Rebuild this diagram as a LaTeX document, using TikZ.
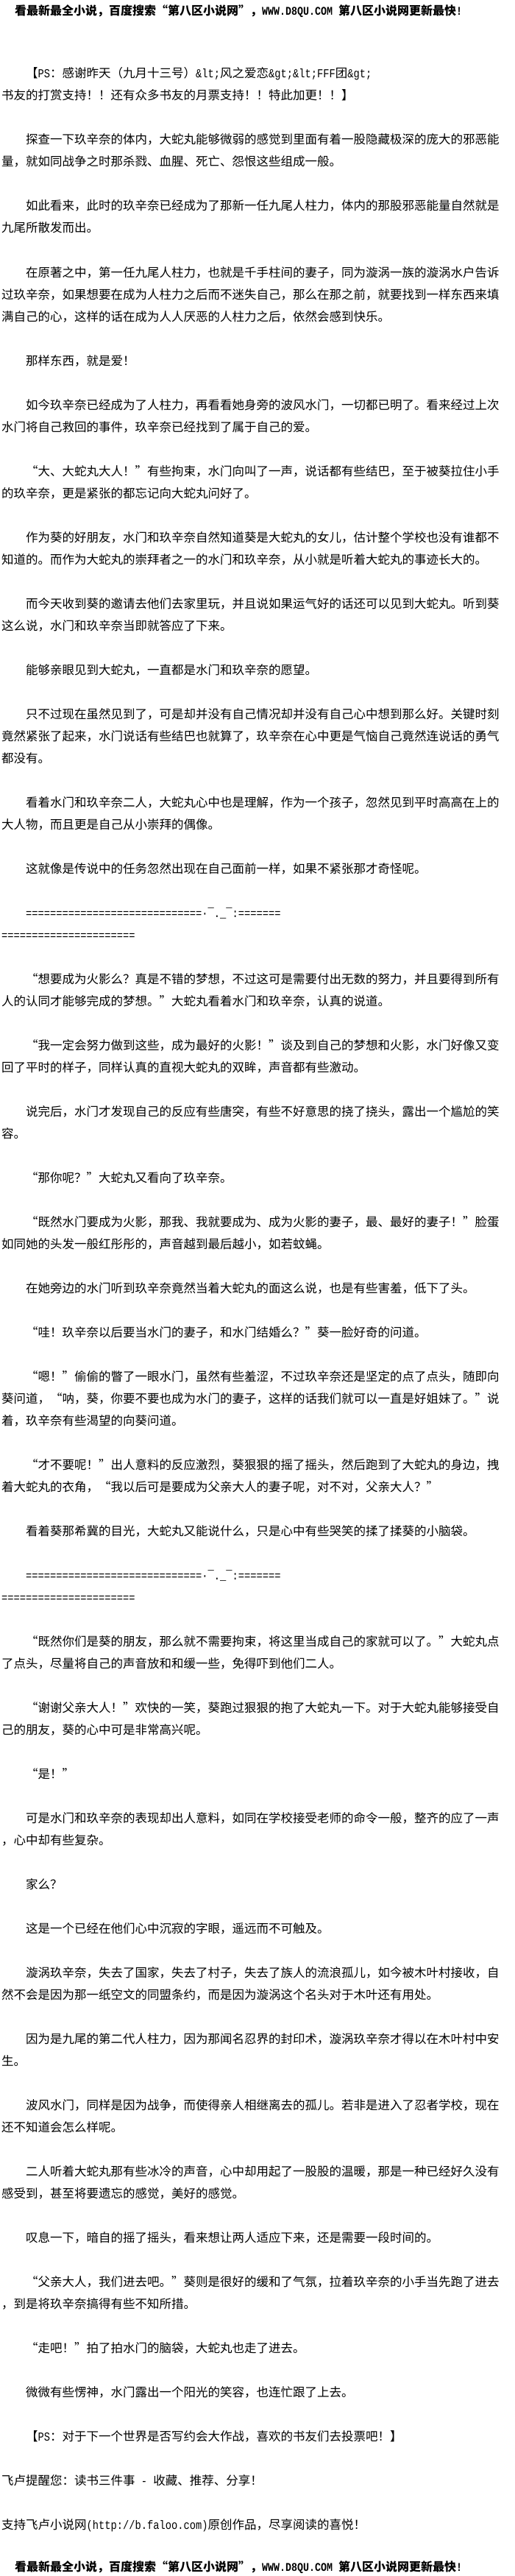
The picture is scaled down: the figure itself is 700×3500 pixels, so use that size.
\documentclass[tikz,border=0pt]{standalone}
\usepackage{fontspec}
\setmainfont{Noto Sans CJK SC}
\newfontfamily\cjk{Noto Sans CJK SC}
\newfontfamily\hwfont{Liberation Mono}[FakeStretch=0.833]
% half-width latin runs
\newcommand\hw[1]{{\hwfont\fontsize{16.5}{20}\selectfont #1}}
\newcommand\hwb[1]{{\hwfont\bfseries\fontsize{16}{18}\selectfont #1}}
\begin{document}
\begin{tikzpicture}[x=1pt,y=-1pt,
    txt/.style={anchor=base west,inner sep=0pt,font=\cjk\fontsize{16.5}{20}\selectfont},
    head/.style={anchor=base west,inner sep=0pt,font=\cjk\bfseries\fontsize{16}{18}\selectfont}]
  \fill[white] (0,0) rectangle (700,3500);
  \useasboundingbox (0,0) rectangle (700,3500);
  % banner
  \node[head] (top) at (20,21) {看最新最全小说，百度搜索“第八区小说网”，\hwb{WWW.D8QU.COM\ }第八区小说网更新最快\hwb{!}};
  % chapter text
  \node[txt] (l1) at (2,106) {　　【\hw{PS}：感谢昨天（九月十三号）\hw{\&lt;}风之爱恋\hw{\&gt;\&lt;FFF}团\hw{\&gt;}};
  \node[txt] (l2) at (2,136) {书友的打赏支持！！还有众多书友的月票支持！！特此加更！！】};
  \node[txt] (l3) at (2,196) {　　探查一下玖辛奈的体内，大蛇丸能够微弱的感觉到里面有着一股隐藏极深的庞大的邪恶能};
  \node[txt] (l4) at (2,226) {量，就如同战争之时那杀戮、血腥、死亡、怨恨这些组成一般。};
  \node[txt] (l5) at (2,286) {　　如此看来，此时的玖辛奈已经成为了那新一任九尾人柱力，体内的那股邪恶能量自然就是};
  \node[txt] (l6) at (2,316) {九尾所散发而出。};
  \node[txt] (l7) at (2,376) {　　在原著之中，第一任九尾人柱力，也就是千手柱间的妻子，同为漩涡一族的漩涡水户告诉};
  \node[txt] (l8) at (2,406) {过玖辛奈，如果想要在成为人柱力之后而不迷失自己，那么在那之前，就要找到一样东西来填};
  \node[txt] (l9) at (2,436) {满自己的心，这样的话在成为人人厌恶的人柱力之后，依然会感到快乐。};
  \node[txt] (l10) at (2,496) {　　那样东西，就是爱！};
  \node[txt] (l11) at (2,556) {　　如今玖辛奈已经成为了人柱力，再看看她身旁的波风水门，一切都已明了。看来经过上次};
  \node[txt] (l12) at (2,586) {水门将自己救回的事件，玖辛奈已经找到了属于自己的爱。};
  \node[txt] (l13) at (2,646) {　　“大、大蛇丸大人！”有些拘束，水门向叫了一声，说话都有些结巴，至于被葵拉住小手};
  \node[txt] (l14) at (2,676) {的玖辛奈，更是紧张的都忘记向大蛇丸问好了。};
  \node[txt] (l15) at (2,736) {　　作为葵的好朋友，水门和玖辛奈自然知道葵是大蛇丸的女儿，估计整个学校也没有谁都不};
  \node[txt] (l16) at (2,766) {知道的。而作为大蛇丸的崇拜者之一的水门和玖辛奈，从小就是听着大蛇丸的事迹长大的。};
  \node[txt] (l17) at (2,826) {　　而今天收到葵的邀请去他们去家里玩，并且说如果运气好的话还可以见到大蛇丸。听到葵};
  \node[txt] (l18) at (2,856) {这么说，水门和玖辛奈当即就答应了下来。};
  \node[txt] (l19) at (2,916) {　　能够亲眼见到大蛇丸，一直都是水门和玖辛奈的愿望。};
  \node[txt] (l20) at (2,976) {　　只不过现在虽然见到了，可是却并没有自己情况却并没有自己心中想到那么好。关键时刻};
  \node[txt] (l21) at (2,1006) {竟然紧张了起来，水门说话有些结巴也就算了，玖辛奈在心中更是气恼自己竟然连说话的勇气};
  \node[txt] (l22) at (2,1036) {都没有。};
  \node[txt] (l23) at (2,1096) {　　看着水门和玖辛奈二人，大蛇丸心中也是理解，作为一个孩子，忽然见到平时高高在上的};
  \node[txt] (l24) at (2,1126) {大人物，而且更是自己从小崇拜的偶像。};
  \node[txt] (l25) at (2,1186) {　　这就像是传说中的任务忽然出现在自己面前一样，如果不紧张那才奇怪呢。};
  \node[txt] (l26) at (2,1246) {　　\hw{=============================·¯.\_¯:=======}};
  \node[txt] (l27) at (2,1276) {\hw{======================}};
  \node[txt] (l28) at (2,1336) {　　“想要成为火影么？真是不错的梦想，不过这可是需要付出无数的努力，并且要得到所有};
  \node[txt] (l29) at (2,1366) {人的认同才能够完成的梦想。”大蛇丸看着水门和玖辛奈，认真的说道。};
  \node[txt] (l30) at (2,1426) {　　“我一定会努力做到这些，成为最好的火影！”谈及到自己的梦想和火影，水门好像又变};
  \node[txt] (l31) at (2,1456) {回了平时的样子，同样认真的直视大蛇丸的双眸，声音都有些激动。};
  \node[txt] (l32) at (2,1516) {　　说完后，水门才发现自己的反应有些唐突，有些不好意思的挠了挠头，露出一个尴尬的笑};
  \node[txt] (l33) at (2,1546) {容。};
  \node[txt] (l34) at (2,1606) {　　“那你呢？”大蛇丸又看向了玖辛奈。};
  \node[txt] (l35) at (2,1666) {　　“既然水门要成为火影，那我、我就要成为、成为火影的妻子，最、最好的妻子！”脸蛋};
  \node[txt] (l36) at (2,1696) {如同她的头发一般红彤彤的，声音越到最后越小，如若蚊蝇。};
  \node[txt] (l37) at (2,1756) {　　在她旁边的水门听到玖辛奈竟然当着大蛇丸的面这么说，也是有些害羞，低下了头。};
  \node[txt] (l38) at (2,1816) {　　“哇！玖辛奈以后要当水门的妻子，和水门结婚么？”葵一脸好奇的问道。};
  \node[txt] (l39) at (2,1876) {　　“嗯！”偷偷的瞥了一眼水门，虽然有些羞涩，不过玖辛奈还是坚定的点了点头，随即向};
  \node[txt] (l40) at (2,1906) {葵问道，“呐，葵，你要不要也成为水门的妻子，这样的话我们就可以一直是好姐妹了。”说};
  \node[txt] (l41) at (2,1936) {着，玖辛奈有些渴望的向葵问道。};
  \node[txt] (l42) at (2,1996) {　　“才不要呢！”出人意料的反应激烈，葵狠狠的摇了摇头，然后跑到了大蛇丸的身边，拽};
  \node[txt] (l43) at (2,2026) {着大蛇丸的衣角，“我以后可是要成为父亲大人的妻子呢，对不对，父亲大人？”};
  \node[txt] (l44) at (2,2086) {　　看着葵那希冀的目光，大蛇丸又能说什么，只是心中有些哭笑的揉了揉葵的小脑袋。};
  \node[txt] (l45) at (2,2146) {　　\hw{=============================·¯.\_¯:=======}};
  \node[txt] (l46) at (2,2176) {\hw{======================}};
  \node[txt] (l47) at (2,2236) {　　“既然你们是葵的朋友，那么就不需要拘束，将这里当成自己的家就可以了。”大蛇丸点};
  \node[txt] (l48) at (2,2266) {了点头，尽量将自己的声音放和和缓一些，免得吓到他们二人。};
  \node[txt] (l49) at (2,2326) {　　“谢谢父亲大人！”欢快的一笑，葵跑过狠狠的抱了大蛇丸一下。对于大蛇丸能够接受自};
  \node[txt] (l50) at (2,2356) {己的朋友，葵的心中可是非常高兴呢。};
  \node[txt] (l51) at (2,2416) {　　“是！”};
  \node[txt] (l52) at (2,2476) {　　可是水门和玖辛奈的表现却出人意料，如同在学校接受老师的命令一般，整齐的应了一声};
  \node[txt] (l53) at (2,2506) {，心中却有些复杂。};
  \node[txt] (l54) at (2,2566) {　　家么？};
  \node[txt] (l55) at (2,2626) {　　这是一个已经在他们心中沉寂的字眼，遥远而不可触及。};
  \node[txt] (l56) at (2,2686) {　　漩涡玖辛奈，失去了国家，失去了村子，失去了族人的流浪孤儿，如今被木叶村接收，自};
  \node[txt] (l57) at (2,2716) {然不会是因为那一纸空文的同盟条约，而是因为漩涡这个名头对于木叶还有用处。};
  \node[txt] (l58) at (2,2776) {　　因为是九尾的第二代人柱力，因为那闻名忍界的封印术，漩涡玖辛奈才得以在木叶村中安};
  \node[txt] (l59) at (2,2806) {生。};
  \node[txt] (l60) at (2,2866) {　　波风水门，同样是因为战争，而使得亲人相继离去的孤儿。若非是进入了忍者学校，现在};
  \node[txt] (l61) at (2,2896) {还不知道会怎么样呢。};
  \node[txt] (l62) at (2,2956) {　　二人听着大蛇丸那有些冰冷的声音，心中却用起了一股股的温暖，那是一种已经好久没有};
  \node[txt] (l63) at (2,2986) {感受到，甚至将要遗忘的感觉，美好的感觉。};
  \node[txt] (l64) at (2,3046) {　　叹息一下，暗自的摇了摇头，看来想让两人适应下来，还是需要一段时间的。};
  \node[txt] (l65) at (2,3106) {　　“父亲大人，我们进去吧。”葵则是很好的缓和了气氛，拉着玖辛奈的小手当先跑了进去};
  \node[txt] (l66) at (2,3136) {，到是将玖辛奈搞得有些不知所措。};
  \node[txt] (l67) at (2,3196) {　　“走吧！”拍了拍水门的脑袋，大蛇丸也走了进去。};
  \node[txt] (l68) at (2,3256) {　　微微有些愣神，水门露出一个阳光的笑容，也连忙跟了上去。};
  \node[txt] (l69) at (2,3316) {　　【\hw{PS}：对于下一个世界是否写约会大作战，喜欢的书友们去投票吧！】};
  \node[txt] (l70) at (2,3376) {飞卢提醒您：读书三件事\hw{\ -\ }收藏、推荐、分享！};
  \node[txt] (l71) at (2,3436) {支持飞卢小说网\hw{(http://b.faloo.com)}原创作品，尽享阅读的喜悦！};
  % banner again
  \node[head] (bottom) at (20,3493) {看最新最全小说，百度搜索“第八区小说网”，\hwb{WWW.D8QU.COM\ }第八区小说网更新最快\hwb{!}};
\end{tikzpicture}
\end{document}
